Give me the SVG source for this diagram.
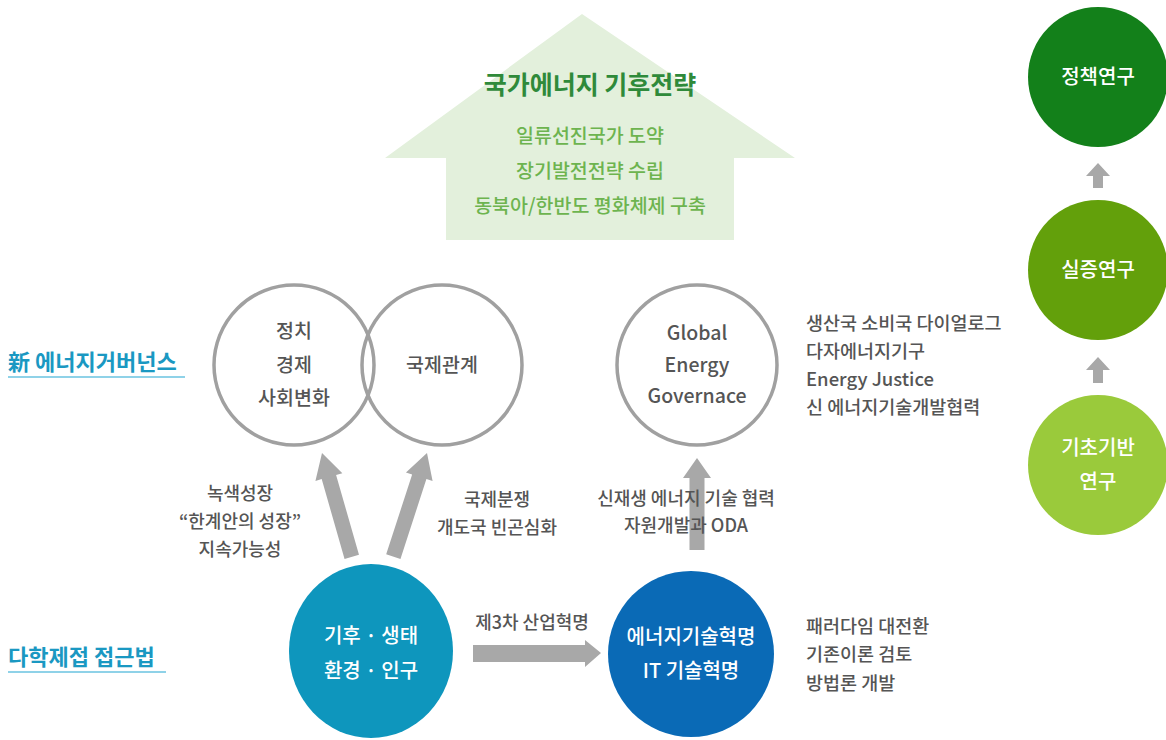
<svg xmlns="http://www.w3.org/2000/svg" width="1166" height="740" viewBox="0 0 1166 740">
<style>
text{font-family:"Noto Sans CJK KR","Noto Sans",sans-serif;}
.ring{fill:#fff;stroke:#a0a0a0;stroke-width:3.5;}
.gt{fill:#555;font-size:19.5px;text-anchor:middle;font-weight:500;}
.al{fill:#555;font-size:18px;text-anchor:middle;font-weight:500;}
.gl{fill:#555;font-size:18.5px;font-weight:500;}
.wt{fill:#fff;font-size:20px;text-anchor:middle;font-weight:500;}
.arr{fill:#a8a8a8;}
.sec{fill:#1a98c2;font-size:22px;font-weight:bold;}
.ul{stroke:#8fd2e8;stroke-width:2;}
</style>

<g id="house">
<polygon points="582,14 795,158 734,158 734,240 446,240 446,158 385,158" fill="#e3f0dc"/>
<text x="590" y="94" font-size="25" font-weight="bold" fill="#2f8a3a" text-anchor="middle">국가에너지 기후전략</text>
<text x="590" y="143" font-size="19.5" fill="#6db44f" text-anchor="middle" font-weight="500">일류선진국가 도약</text>
<text x="590" y="178" font-size="19.5" fill="#6db44f" text-anchor="middle" font-weight="500">장기발전전략 수립</text>
<text x="590" y="213" font-size="19.5" fill="#6db44f" text-anchor="middle" font-weight="500">동북아/한반도 평화체제 구축</text>
</g>

<g id="label-governance">
<text class="sec" x="8" y="370">新 에너지거버넌스</text>
<line class="ul" x1="8" y1="377" x2="185" y2="377"/>
</g>
<g id="label-multi">
<text class="sec" x="8" y="665">다학제접 접근법</text>
<line class="ul" x1="8" y1="672" x2="166" y2="672"/>
</g>

<g id="node-politics">
<circle class="ring" cx="294" cy="365" r="80"/>
<text class="gt" x="294" y="338">정치</text>
<text class="gt" x="294" y="372">경제</text>
<text class="gt" x="294" y="405">사회변화</text>
</g>
<g id="node-intl">
<circle class="ring" cx="442" cy="365" r="80" style="fill:none"/>
<text class="gt" x="442" y="372">국제관계</text>
</g>

<g id="node-geg">
<circle class="ring" cx="697" cy="365" r="80"/>
<text class="gt" x="697" y="340">Global</text>
<text class="gt" x="697" y="372">Energy</text>
<text class="gt" x="697" y="403">Governace</text>
</g>
<g id="geg-notes">
<text class="gl" x="806" y="330">생산국 소비국 다이얼로그</text>
<text class="gl" x="806" y="358">다자에너지기구</text>
<text class="gl" x="806" y="386">Energy Justice</text>
<text class="gl" x="806" y="414">신 에너지기술개발협력</text>
</g>

<g id="connectors">
<polygon class="arr" transform="translate(322,453) rotate(-16)" points="0,0 14,25 7.5,25 7.5,108 -7.5,108 -7.5,25 -14,25"/>
<polygon class="arr" transform="translate(427,453) rotate(18)" points="0,0 14,25 7.5,25 7.5,109 -7.5,109 -7.5,25 -14,25"/>
<polygon class="arr" points="697,458 711,478 704.5,478 704.5,550 689.5,550 689.5,478 683,478"/>
<polygon class="arr" points="473,645 585,645 585,640 601,653 585,667 585,662 473,662"/>
<polygon class="arr" points="1098,163 1110,176 1103,176 1103,188 1093,188 1093,176 1086,176"/>
<polygon class="arr" points="1098,357 1110,370 1103,370 1103,383 1093,383 1093,370 1086,370"/>
</g>

<g id="arrow-labels">
<text class="al" x="240" y="500">녹색성장</text>
<text class="al" x="240" y="528">“한계안의 성장”</text>
<text class="al" x="240" y="556">지속가능성</text>
<text class="al" x="497" y="506">국제분쟁</text>
<text class="al" x="497" y="534">개도국 빈곤심화</text>
<text class="al" x="686" y="505">신재생 에너지 기술 협력</text>
<text class="al" x="686" y="532">자원개발과 ODA</text>
<text class="al" x="532" y="629">제3차 산업혁명</text>
</g>

<g id="node-climate">
<ellipse cx="371" cy="651" rx="82" ry="87" fill="#0e96bd"/>
<text class="wt" x="371" y="643">기후 · 생태</text>
<text class="wt" x="371" y="678">환경 · 인구</text>
</g>
<g id="node-energytech">
<circle cx="691" cy="654" r="83" fill="#0a6ab6"/>
<text class="wt" x="691" y="644">에너지기술혁명</text>
<text class="wt" x="691" y="678">IT 기술혁명</text>
</g>
<g id="tech-notes">
<text class="gl" x="806" y="633">패러다임 대전환</text>
<text class="gl" x="806" y="661">기존이론 검토</text>
<text class="gl" x="806" y="690">방법론 개발</text>
</g>

<g id="node-policy">
<circle cx="1098" cy="77" r="70" fill="#13801a"/>
<text class="wt" x="1098" y="84">정책연구</text>
</g>
<g id="node-empirical">
<circle cx="1098" cy="270" r="70" fill="#63a00b"/>
<text class="wt" x="1098" y="277">실증연구</text>
</g>
<g id="node-basic">
<circle cx="1098" cy="465" r="70" fill="#9aca3b"/>
<text class="wt" x="1098" y="455">기초기반</text>
<text class="wt" x="1098" y="489">연구</text>
</g>
</svg>
